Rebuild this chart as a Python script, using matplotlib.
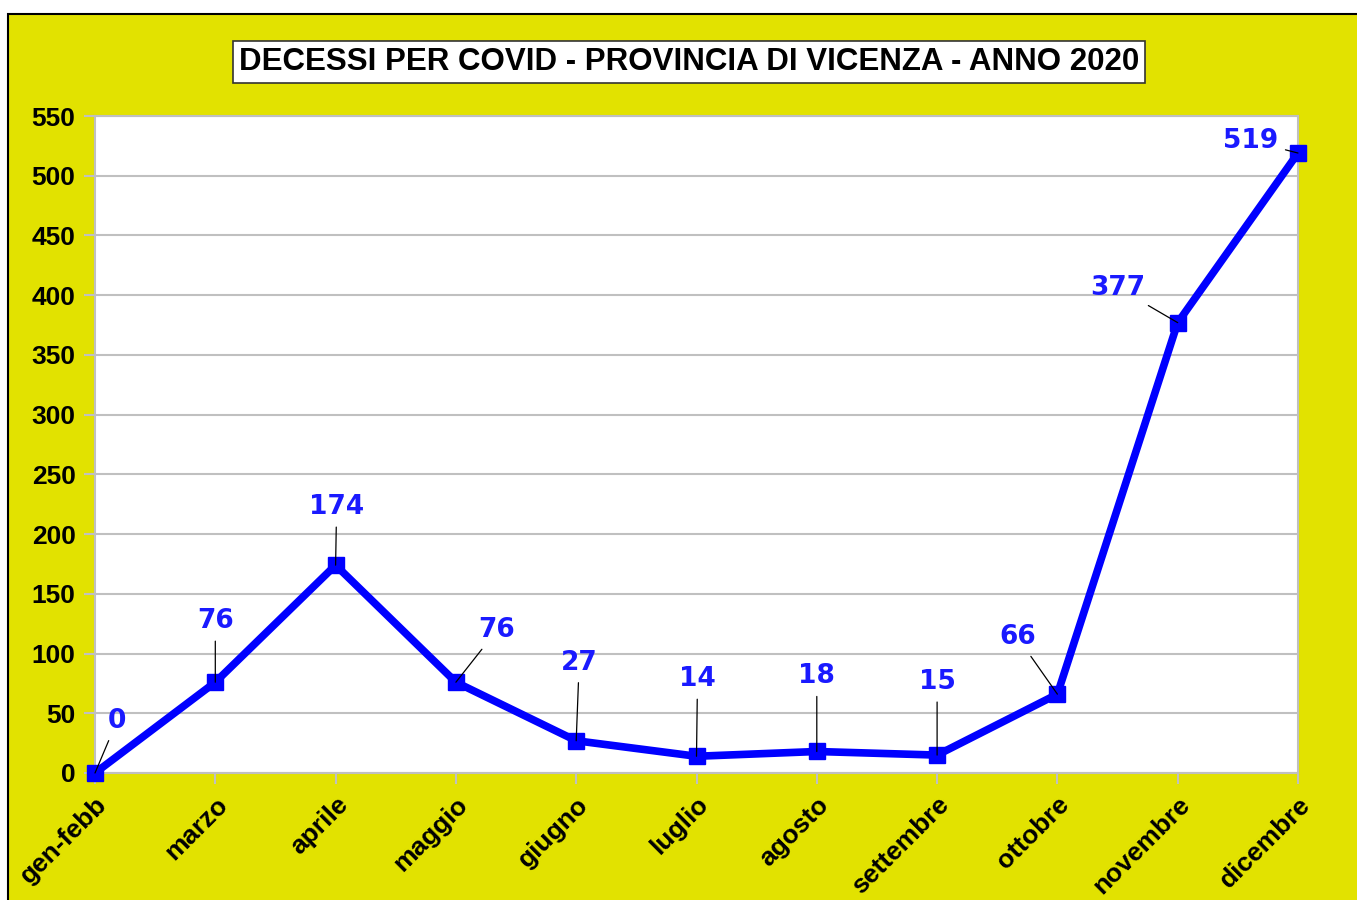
import matplotlib.pyplot as plt
import matplotlib.transforms as mtrans
from matplotlib.patches import Rectangle

mesi = ['gen-febb', 'marzo', 'aprile', 'maggio', 'giugno', 'luglio',
        'agosto', 'settembre', 'ottobre', 'novembre', 'dicembre']
decessi = [0, 76, 174, 76, 27, 14, 18, 15, 66, 377, 519]
titolo = 'DECESSI PER COVID - PROVINCIA DI VICENZA - ANNO 2020'

# spostamento delle etichette rispetto al punto (pixel)
offs = [(22, 52), (0, 61), (1, 58), (41, 52), (3, 78), (1, 77),
        (0, 75), (0, 73), (-40, 57), (-60, 35), (-47, 12)]

giallo = '#e2e200'
grigio = '#c0c0c0'

fig = plt.figure(figsize=(13.57, 9), dpi=100)
fig.patch.set_facecolor('white')
fig.patches.append(Rectangle((8 / 1357, -0.01), 1.0, 1 - 14 / 900 + 0.01,
                             transform=fig.transFigure, facecolor=giallo,
                             edgecolor='black', linewidth=1.5, zorder=-1))

ax = fig.add_axes([95 / 1357, 1 - 773 / 900, (1298 - 95) / 1357, (773 - 116) / 900])
ax.set_zorder(1)
ax.set_facecolor('white')

x = list(range(len(mesi)))
ax.plot(x, decessi, color='#0000ff', lw=5.5, marker='s', markersize=11,
        clip_on=False, zorder=5)

for i, v in enumerate(decessi):
    ax.annotate(str(v), (i, v), xytext=offs[i], textcoords='offset pixels',
                ha='center', va='center', color='#1a1aff', fontsize=19,
                fontweight='bold', family='DejaVu Sans',
                arrowprops=dict(arrowstyle='-', color='black', lw=0.9,
                                shrinkA=3, shrinkB=0), zorder=6)

ax.set_xlim(0, len(mesi) - 1)
ax.set_ylim(0, 550)
ax.set_yticks(range(0, 551, 50))
ax.set_xticks(x)
ax.set_xticklabels(mesi, rotation=45, ha='right', rotation_mode='anchor',
                   family='Liberation Sans', fontweight='bold', fontsize=19)
sposta = mtrans.ScaledTranslation(-8 / 100, 0, fig.dpi_scale_trans)
for lab in ax.get_xticklabels():
    lab.set_transform(lab.get_transform() + sposta)
for lab in ax.get_yticklabels():
    lab.set_family('Liberation Sans')
    lab.set_fontweight('bold')
    lab.set_fontsize(19)
ax.tick_params(axis='both', color=grigio, length=8, width=1.5, pad=6)
ax.tick_params(axis='x', pad=6)
ax.grid(axis='y', color=grigio, lw=1.5)
ax.set_axisbelow(True)
for s in ax.spines.values():
    s.set_color(grigio)
    s.set_linewidth(1.5)

fig.text(689 / 1357, 1 - 62 / 900, titolo, ha='center', va='center',
         family='Liberation Sans', fontweight='bold', fontsize=22.5,
         bbox=dict(boxstyle='square,pad=0.2', facecolor='white',
                   edgecolor='#333333', linewidth=1.2))

fig.savefig('out.png', dpi=100)
